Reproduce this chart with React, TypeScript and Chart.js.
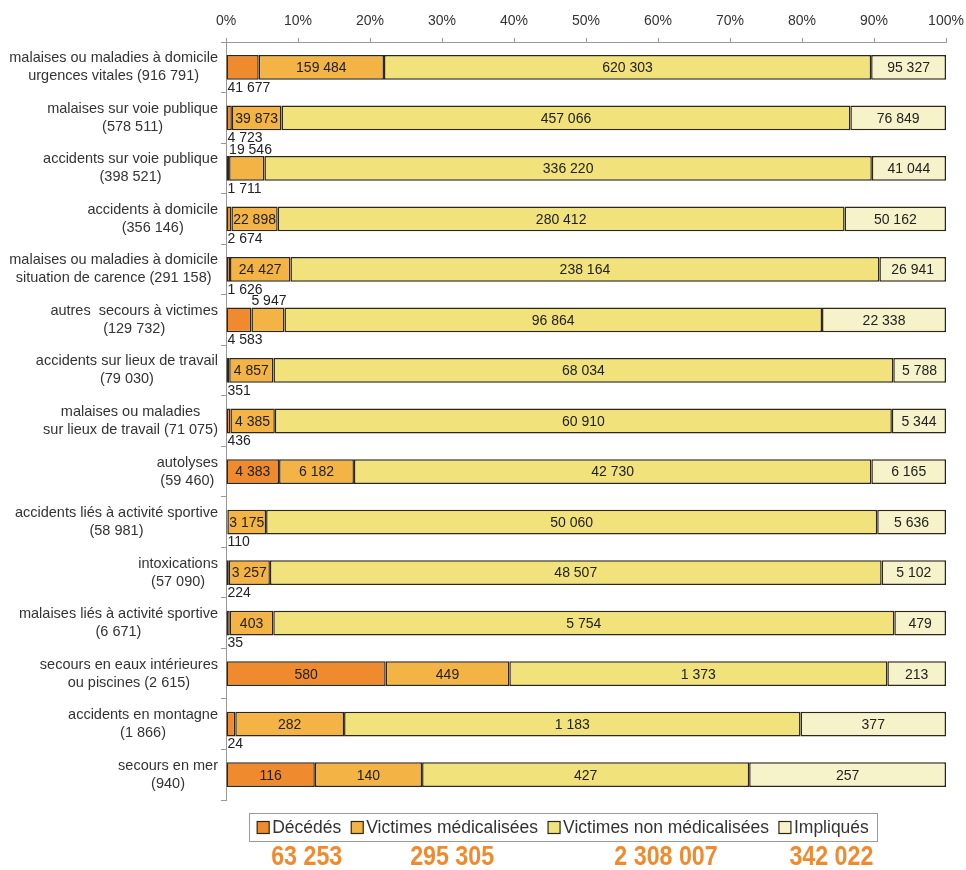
import React, { useEffect, useRef } from "react";
import { Chart, registerables } from "chart.js";

Chart.register(...registerables);

const categoryLines: string[][] = [
  ["malaises ou maladies à domicile", "urgences vitales"],
  ["malaises sur voie publique"],
  ["accidents sur voie publique"],
  ["accidents à domicile"],
  ["malaises ou maladies à domicile", "situation de carence"],
  ["autres  secours à victimes"],
  ["accidents sur lieux de travail"],
  ["malaises ou maladies", "sur lieux de travail"],
  ["autolyses"],
  ["accidents liés à activité sportive"],
  ["intoxications"],
  ["malaises liés à activité sportive"],
  ["secours en eaux intérieures", "ou piscines"],
  ["accidents en montagne"],
  ["secours en mer"],
];

const decedes = [41677, 4723, 1711, 2674, 1626, 4583, 351, 436, 4383, 110, 224, 35, 580, 24, 116];
const victimesMedicalisees = [159484, 39873, 19546, 22898, 24427, 5947, 4857, 4385, 6182, 3175, 3257, 403, 449, 282, 140];
const victimesNonMedicalisees = [620303, 457066, 336220, 280412, 238164, 96864, 68034, 60910, 42730, 50060, 48507, 5754, 1373, 1183, 427];
const impliques = [95327, 76849, 41044, 50162, 26941, 22338, 5788, 5344, 6165, 5636, 5102, 479, 213, 377, 257];

const seriesNames = ["Décédés", "Victimes médicalisées", "Victimes non médicalisées", "Impliqués"];
const seriesColors = ["#F08A2F", "#F4B445", "#F2E27C", "#F6F3CB"];
const seriesValues = [decedes, victimesMedicalisees, victimesNonMedicalisees, impliques];

const FONT = '"Liberation Sans", Arial, Helvetica, sans-serif';
const BORDER = "#2e2616";

const fmt = (n: number) => String(n).replace(/\B(?=(\d{3})+(?!\d))/g, " ");

const rowTotals = categoryLines.map((_, i) => seriesValues.reduce((s, arr) => s + arr[i], 0));
const seriesTotals = seriesValues.map((arr) => arr.reduce((s, v) => s + v, 0));

const categoryLabels = categoryLines.map((lines, i) => {
  const out = lines.slice();
  const tot = "(" + fmt(rowTotals[i]) + ")";
  if (out.length > 1) out[out.length - 1] = out[out.length - 1] + " " + tot;
  else out.push(tot);
  return out;
});

const segLabelPlugin = {
  id: "segLabels",
  afterDatasetsDraw(chart: any) {
    const ctx = chart.ctx;
    ctx.save();
    ctx.font = "14px " + FONT;
    ctx.fillStyle = "#222";
    chart.data.datasets.forEach((_: any, di: number) => {
      const meta = chart.getDatasetMeta(di);
      meta.data.forEach((el: any, i: number) => {
        const text = fmt(seriesValues[di][i]);
        const p = el.getProps(["x", "base", "y", "height"], true);
        const left = Math.min(p.x, p.base);
        const right = Math.max(p.x, p.base);
        const w = ctx.measureText(text).width;
        const h = p.height;
        if (w + 2 <= right - left) {
          ctx.textAlign = "center";
          ctx.textBaseline = "middle";
          ctx.fillText(text, (left + right) / 2, p.y + 1);
        } else if (di === 0) {
          ctx.textAlign = "left";
          ctx.textBaseline = "middle";
          ctx.fillText(text, left + 1, p.y + h / 2 + 8);
        } else {
          ctx.textAlign = "left";
          ctx.textBaseline = "middle";
          ctx.fillText(text, left, p.y - h / 2 - 6);
        }
      });
    });
    ctx.restore();
  },
};

const catLabelPlugin = {
  id: "catLabels",
  afterDraw(chart: any) {
    const ctx = chart.ctx;
    const y = chart.scales.y;
    ctx.save();
    ctx.font = "14.5px " + FONT;
    ctx.fillStyle = "#333";
    ctx.textBaseline = "middle";
    ctx.textAlign = "center";
    const rightEdge = chart.chartArea.left - 8;
    const lh = 18;
    categoryLabels.forEach((lines, i) => {
      const cy = y.getPixelForValue(i);
      const maxW = Math.max(...lines.map((l) => ctx.measureText(l).width));
      const cx = rightEdge - maxW / 2;
      const y0 = cy - ((lines.length - 1) * lh) / 2;
      lines.forEach((l, k) => ctx.fillText(l, cx, y0 + k * lh));
    });
    ctx.restore();
  },
};

const legendPlugin = {
  id: "customLegend",
  afterDraw(chart: any) {
    const ctx = chart.ctx;
    ctx.save();
    ctx.font = "17.5px " + FONT;
    const box = 12;
    const gapBoxText = 3;
    const itemGap = 10;
    const pad = 8;
    const widths = seriesNames.map((n) => ctx.measureText(n).width);
    const total = widths.reduce((s, w) => s + box + gapBoxText + w, 0) + itemGap * (seriesNames.length - 1);
    const boxW = total + pad * 2;
    const centerX = 563;
    const lx = centerX - boxW / 2;
    const ly = 813;
    const lhgt = 28;
    ctx.fillStyle = "#fff";
    ctx.fillRect(lx, ly, boxW, lhgt);
    ctx.strokeStyle = "#9a9a9a";
    ctx.lineWidth = 1;
    ctx.strokeRect(Math.round(lx) + 0.5, ly + 0.5, Math.round(boxW), lhgt);
    let x = lx + pad;
    const cy = ly + lhgt / 2 + 0.5;
    const centers: number[] = [];
    seriesNames.forEach((n, i) => {
      ctx.fillStyle = seriesColors[i];
      ctx.fillRect(x, cy - box / 2, box, box);
      ctx.strokeStyle = BORDER;
      ctx.lineWidth = 1.2;
      ctx.strokeRect(x, cy - box / 2, box, box);
      ctx.fillStyle = "#333";
      ctx.textAlign = "left";
      ctx.textBaseline = "middle";
      const tx = x + box + gapBoxText;
      ctx.fillText(n, tx, cy + 1);
      centers.push(tx + widths[i] / 2);
      x = tx + widths[i] + itemGap;
    });
    ctx.font = "bold 27px " + FONT;
    ctx.fillStyle = "#F08A2F";
    ctx.textAlign = "center";
    ctx.textBaseline = "middle";
    const sx = 0.86;
    seriesTotals.forEach((t, i) => {
      ctx.save();
      ctx.translate(centers[i], 858);
      ctx.scale(sx, 1);
      ctx.fillText(fmt(t), 0, 0);
      ctx.restore();
    });
    ctx.restore();
  },
};

export default function App() {
  const ref = useRef<HTMLCanvasElement | null>(null);
  useEffect(() => {
    if (!ref.current) return;
    const chart = new Chart(ref.current, {
      type: "bar",
      data: {
        labels: categoryLabels.map((l) => l.join(" ")),
        datasets: seriesNames.map((name, di) => ({
          label: name,
          data: seriesValues[di].map((v, i) => (v / rowTotals[i]) * 100),
          backgroundColor: seriesColors[di],
          borderColor: BORDER,
          borderWidth: 1.5,
          borderSkipped: false,
          barPercentage: 0.49,
          categoryPercentage: 1,
        })),
      },
      options: {
        indexAxis: "y",
        animation: false,
        responsive: false,
        maintainAspectRatio: false,
        layout: { padding: { left: 0, right: 20, top: 0, bottom: 70 } },
        plugins: {
          legend: { display: false },
          tooltip: { enabled: false },
        },
        scales: {
          x: {
            position: "top",
            stacked: true,
            min: 0,
            max: 100,
            ticks: {
              stepSize: 10,
              callback: (v: any) => v + "%",
              color: "#333",
              font: { size: 14, family: FONT },
              padding: 8,
            },
            grid: { drawOnChartArea: false, tickLength: 4, color: "#999" },
            border: { color: "#999" },
            afterFit: (s: any) => {
              s.height = 42;
              s.paddingLeft = 0;
              s.paddingRight = 0;
            },
          },
          y: {
            stacked: true,
            ticks: { display: false },
            grid: { drawOnChartArea: false, tickLength: 5, color: "#999", offset: true },
            border: { color: "#999" },
            afterFit: (s: any) => {
              s.width = 226;
              s.paddingTop = 0;
              s.paddingBottom = 0;
            },
          },
        },
      },
      plugins: [segLabelPlugin, catLabelPlugin, legendPlugin],
    } as any);
    return () => chart.destroy();
  }, []);
  return (
    <div style={{ position: "absolute", left: 0, top: 0, width: 966, height: 870 }}>
      <canvas ref={ref} width={966} height={870} style={{ display: "block", width: 966, height: 870 }} />
    </div>
  );
}
